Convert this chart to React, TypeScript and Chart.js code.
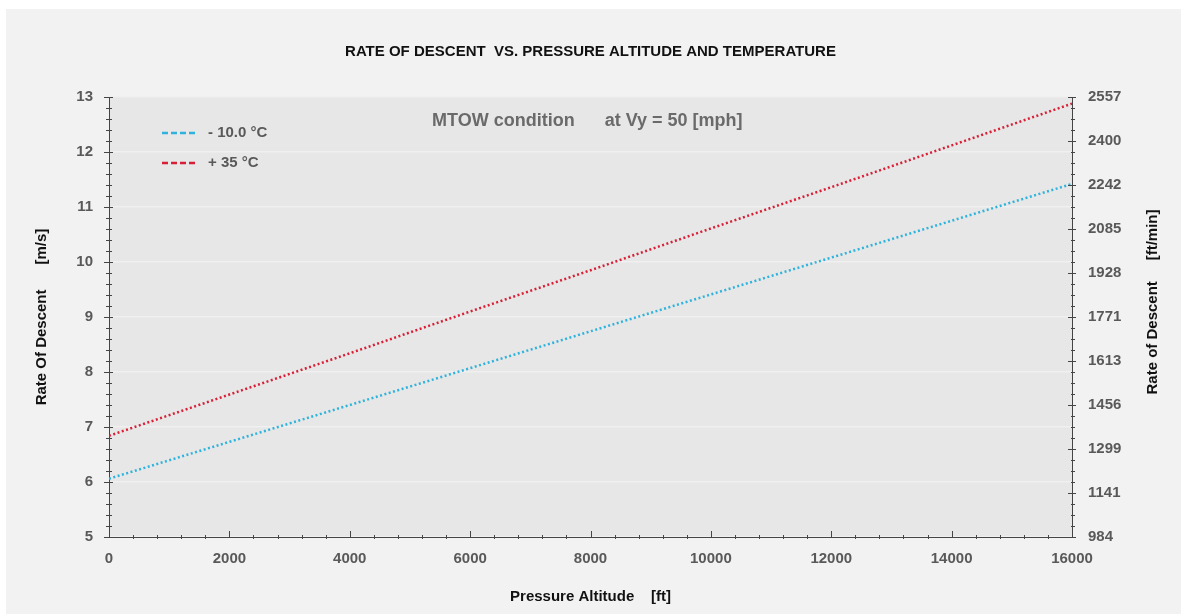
import React, { useEffect, useRef } from "react";
import { Chart, registerables } from "chart.js";

Chart.register(...registerables);

// ---- data ----
const ALTITUDE_FT = [0, 2000, 4000, 6000, 8000, 10000, 12000, 14000, 16000];
const COLD_RATE = [6.06, 6.73, 7.4, 8.07, 8.74, 9.41, 10.08, 10.75, 11.42];
const HOT_RATE = [6.84, 7.59, 8.34, 9.1, 9.85, 10.61, 11.36, 12.12, 12.88];
const SERIES_LABELS = ["- 10.0 °C", "+ 35 °C"];
const SERIES_COLORS = ["#2fb3dd", "#d81f36"];
const RIGHT_TICKS = [984, 1141, 1299, 1456, 1613, 1771, 1928, 2085, 2242, 2400, 2557];
const TITLE = "RATE OF DESCENT  VS. PRESSURE ALTITUDE AND TEMPERATURE";
const NOTE = "MTOW condition      at Vy = 50 [mph]";
const X_TITLE = "Pressure Altitude    [ft]";
const Y_TITLE = "Rate Of Descent      [m/s]";
const Y2_TITLE = "Rate of Descent     [ft/min]";

const FONT = "'Liberation Sans', Arial, sans-serif";
const AXIS_COLOR = "#454545";
const LABEL_COLOR = "#595959";

const plotBackground = {
  id: "plotBackground",
  beforeDraw(chart: any) {
    const { ctx, chartArea: a } = chart;
    ctx.save();
    ctx.fillStyle = "#e7e7e7";
    ctx.fillRect(a.left, a.top, a.right - a.left, a.bottom - a.top);
    ctx.restore();
  },
};

function drawTicks(ctx: any, scale: any, subdiv: number, draw: (p: number, major: boolean) => void) {
  const ticks = scale.ticks.map((t: any) => t.value);
  for (let i = 0; i < ticks.length; i++) {
    draw(scale.getPixelForValue(ticks[i]), true);
    if (i < ticks.length - 1) {
      for (let k = 1; k < subdiv; k++) {
        const v = ticks[i] + ((ticks[i + 1] - ticks[i]) * k) / subdiv;
        draw(scale.getPixelForValue(v), false);
      }
    }
  }
}

const decorations = {
  id: "decorations",
  afterDraw(chart: any) {
    const { ctx, chartArea: a, scales } = chart;
    ctx.save();
    ctx.strokeStyle = AXIS_COLOR;
    ctx.lineWidth = 1;
    // left axis ticks
    drawTicks(ctx, scales.y, 5, (p, major) => {
      const y = Math.round(p) + 0.5;
      ctx.beginPath();
      ctx.moveTo(a.left - (major ? 5 : 3), y);
      ctx.lineTo(a.left + (major ? 4 : 3), y);
      ctx.stroke();
    });
    // right axis ticks
    drawTicks(ctx, scales.y2, 4, (p, major) => {
      const y = Math.round(p) + 0.5;
      ctx.beginPath();
      ctx.moveTo(a.right - (major ? 4 : 1), y);
      ctx.lineTo(a.right + (major ? 4 : 3), y);
      ctx.stroke();
    });
    // bottom axis ticks
    drawTicks(ctx, scales.x, 5, (p, major) => {
      const x = Math.round(p) + 0.5;
      ctx.beginPath();
      ctx.moveTo(x, a.bottom - (major ? 6 : 2));
      ctx.lineTo(x, a.bottom + (major ? 0 : 2));
      ctx.stroke();
    });

    // legend
    ctx.textBaseline = "middle";
    ctx.textAlign = "left";
    ctx.font = `bold 15px ${FONT}`;
    SERIES_LABELS.forEach((label, i) => {
      const y = a.top + 36 + i * 30;
      ctx.beginPath();
      ctx.setLineDash([6, 3]);
      ctx.lineWidth = 2.5;
      ctx.strokeStyle = SERIES_COLORS[i];
      ctx.moveTo(a.left + 53, y);
      ctx.lineTo(a.left + 88, y);
      ctx.stroke();
      ctx.setLineDash([]);
      ctx.fillStyle = LABEL_COLOR;
      ctx.fillText(label, a.left + 99, y);
    });

    // note
    ctx.font = `bold 18px ${FONT}`;
    ctx.fillStyle = "#6a6a6a";
    ctx.fillText(NOTE, a.left + 323, a.top + 24);

    // right axis title (reads bottom-to-top)
    ctx.translate(a.right + 81, (a.top + a.bottom) / 2 - 15);
    ctx.rotate(-Math.PI / 2);
    ctx.textAlign = "center";
    ctx.font = `bold 15px ${FONT}`;
    ctx.fillStyle = "#111111";
    ctx.fillText(Y2_TITLE, 0, 0);
    ctx.restore();
  },
};

export default function App() {
  const ref = useRef<HTMLCanvasElement | null>(null);

  useEffect(() => {
    if (!ref.current) return;
    const chart = new Chart(ref.current, {
      type: "line",
      data: {
        datasets: [
          {
            label: SERIES_LABELS[0],
            data: ALTITUDE_FT.map((x, i) => ({ x, y: COLD_RATE[i] })),
            borderColor: SERIES_COLORS[0],
            borderWidth: 2.5,
            borderDash: [2, 2.5],
            pointRadius: 0,
            tension: 0,
            yAxisID: "y",
          },
          {
            label: SERIES_LABELS[1],
            data: ALTITUDE_FT.map((x, i) => ({ x, y: HOT_RATE[i] })),
            borderColor: SERIES_COLORS[1],
            borderWidth: 2.5,
            borderDash: [2, 2.5],
            pointRadius: 0,
            tension: 0,
            yAxisID: "y",
          },
        ],
      },
      options: {
        responsive: false,
        animation: false,
        layout: { padding: 0 },
        plugins: {
          legend: { display: false },
          tooltip: { enabled: false },
          title: {
            display: true,
            text: TITLE,
            fullSize: false,
            color: "#111111",
            font: { family: FONT, size: 15, weight: "bold" },
            padding: { top: 34, bottom: 36 },
          },
        },
        scales: {
          x: {
            type: "linear",
            min: 0,
            max: 16000,
            afterFit: (s: any) => {
              s.height = 77;
            },
            ticks: {
              stepSize: 2000,
              padding: 13,
              color: LABEL_COLOR,
              font: { family: FONT, size: 15, weight: "bold" },
              callback: (v: any) => String(v),
              maxRotation: 0,
            },
            grid: { drawOnChartArea: false, drawTicks: false },
            border: { display: true, color: AXIS_COLOR, width: 1 },
            title: {
              display: true,
              text: X_TITLE,
              color: "#111111",
              font: { family: FONT, size: 15, weight: "bold" },
              padding: { top: 0, bottom: 8 },
            },
          },
          y: {
            type: "linear",
            position: "left",
            min: 5,
            max: 13,
            afterFit: (s: any) => {
              s.width = 103;
            },
            ticks: {
              stepSize: 1,
              padding: 16,
              color: LABEL_COLOR,
              font: { family: FONT, size: 15, weight: "bold" },
              callback: (v: any) => String(v),
            },
            grid: { color: "#f0f0f0", lineWidth: 1.5, drawTicks: false },
            border: { display: true, color: AXIS_COLOR, width: 1 },
            title: {
              display: true,
              text: Y_TITLE,
              color: "#111111",
              font: { family: FONT, size: 15, weight: "bold" },
              padding: { top: 27, bottom: 0 },
            },
          },
          y2: {
            type: "linear",
            position: "right",
            min: RIGHT_TICKS[0],
            max: RIGHT_TICKS[RIGHT_TICKS.length - 1],
            afterFit: (s: any) => {
              s.width = 109;
            },
            afterBuildTicks: (s: any) => {
              s.ticks = RIGHT_TICKS.map((value) => ({ value }));
            },
            ticks: {
              padding: 16,
              color: LABEL_COLOR,
              font: { family: FONT, size: 15, weight: "bold" },
              callback: (v: any) => String(v),
            },
            grid: { drawOnChartArea: false, drawTicks: false },
            border: { display: true, color: AXIS_COLOR, width: 1 },
          },
        },
      },
      plugins: [plotBackground, decorations],
    } as any);
    return () => chart.destroy();
  }, []);

  return (
    <div
      style={{
        position: "absolute",
        left: 6,
        top: 9,
        width: 1175,
        height: 605,
        background: "#f2f2f2",
      }}
    >
      <canvas ref={ref} width={1175} height={605} style={{ display: "block" }} />
    </div>
  );
}
